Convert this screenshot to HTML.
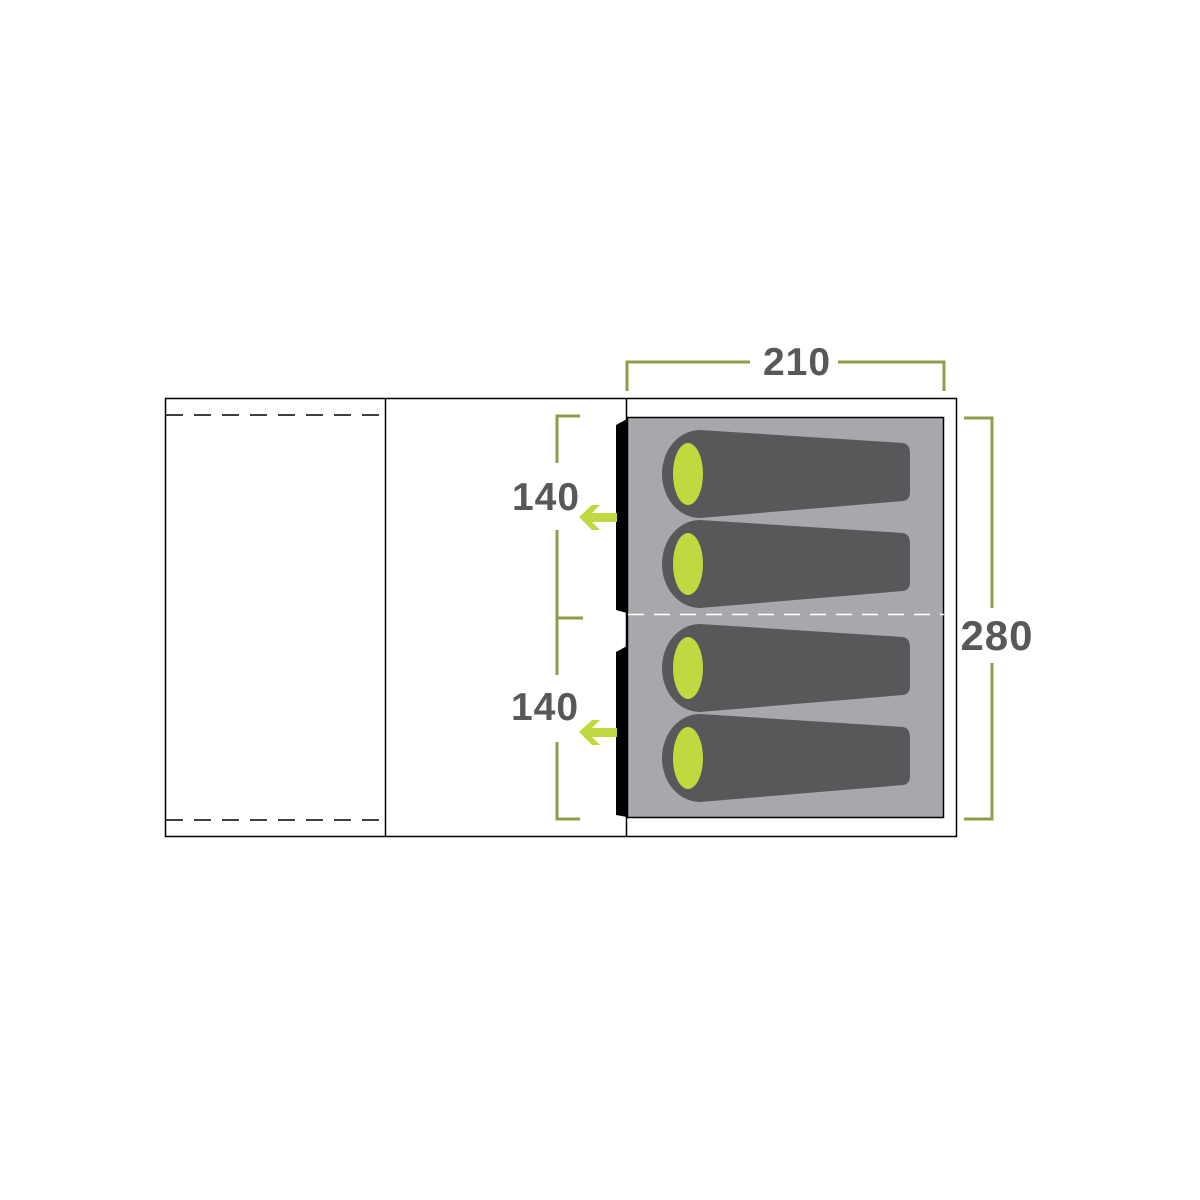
<!DOCTYPE html>
<html><head><style>body{margin:0;background:#fff}svg{display:block}</style></head><body>
<svg width="1200" height="1200" viewBox="0 0 1200 1200" xmlns="http://www.w3.org/2000/svg">
<defs>
<g id="bag">
<path d="M700,-44 L903,-31 Q910,-30 910,-20 L910,18 Q910,26 903,27 L700,44 A38,44 0 0 1 700,-44 Z" fill="#58585a"/>
<ellipse cx="688" cy="0" rx="15" ry="31" fill="#c2d840"/>
</g>
</defs>
<rect x="165.5" y="398.5" width="791" height="438" fill="none" stroke="#000" stroke-width="1.5"/>
<line x1="385.5" y1="398" x2="385.5" y2="837" stroke="#000" stroke-width="1.5"/>
<line x1="626.5" y1="398" x2="626.5" y2="837" stroke="#000" stroke-width="1.5"/>
<line x1="166" y1="415" x2="385" y2="415" stroke="#000" stroke-width="1.5" stroke-dasharray="17,11"/>
<line x1="166" y1="820" x2="385" y2="820" stroke="#000" stroke-width="1.5" stroke-dasharray="17,11"/>
<rect x="627.5" y="417.5" width="316" height="400" fill="#a7a8ab" stroke="#000" stroke-width="1.5"/>
<line x1="628" y1="614.5" x2="944" y2="614.5" stroke="#fff" stroke-width="1.5" stroke-dasharray="16,10"/>
<path d="M616,425 L627,419 L627,613 L616,610 Z" fill="#000"/>
<path d="M616,652 L627,646 L627,817 L616,815 Z" fill="#000"/>
<use href="#bag" transform="translate(0,474)"/>
<use href="#bag" transform="translate(0,564)"/>
<use href="#bag" transform="translate(0,668)"/>
<use href="#bag" transform="translate(0,758)"/>
<g stroke="#8e9d47" stroke-width="3" fill="none">
<polyline points="627,391 627,362 750,362"/>
<polyline points="838,362 944,362 944,391"/>
<polyline points="964,418 992,418 992,608"/>
<polyline points="992,663 992,819 964,819"/>
<polyline points="580,416 557,416 557,463"/>
<polyline points="557,530 557,675"/>
<line x1="557" y1="618" x2="583" y2="618"/>
<polyline points="557,742 557,819 580,819"/>
</g>
<g fill="#c2d840">
<path d="M579,517 L592,505 L600,505 L592,513 L617,513 L617,522 L592,522 L600,530 L592,530 Z"/>
<path d="M579,732 L592,720 L600,720 L592,728 L617,728 L617,737 L592,737 L600,745 L592,745 Z"/>
</g>
<g font-family="Liberation Sans, sans-serif" font-weight="bold" fill="#58585a" font-size="39" letter-spacing="1">
<text x="797" y="375" text-anchor="middle">210</text>
<text x="997" y="650" text-anchor="middle" font-size="42">280</text>
<text x="546" y="510" text-anchor="middle">140</text>
<text x="545" y="720" text-anchor="middle">140</text>
</g>
</svg>
</body></html>
